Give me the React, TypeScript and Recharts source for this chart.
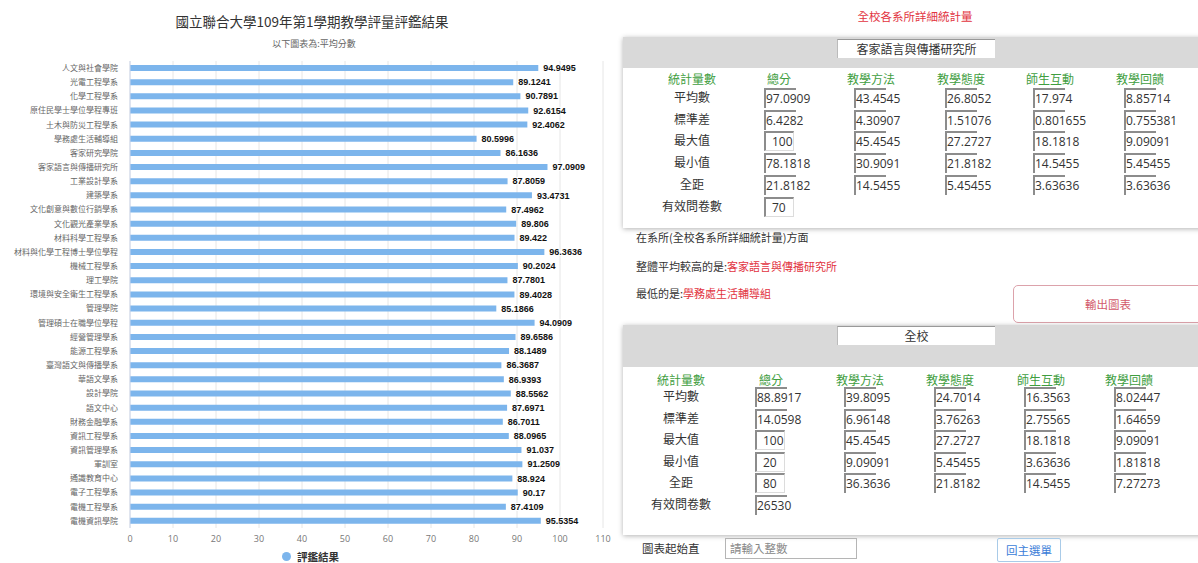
import { BarChart, Bar, XAxis, YAxis, CartesianGrid, LabelList, Legend } from 'recharts'

const departments = [
  '人文與社會學院', '光電工程學系', '化學工程學系', '原住民學士學位學程專班', '土木與防災工程學系',
  '學務處生活輔導組', '客家研究學院', '客家語言與傳播研究所', '工業設計學系', '建築學系',
  '文化創意與數位行銷學系', '文化觀光產業學系', '材料科學工程學系', '材料與化學工程博士學位學程', '機械工程學系',
  '理工學院', '環境與安全衛生工程學系', '管理學院', '管理碩士在職學位學程', '經營管理學系',
  '能源工程學系', '臺灣語文與傳播學系', '華語文學系', '設計學院', '語文中心',
  '財務金融學系', '資訊工程學系', '資訊管理學系', '軍訓室', '通識教育中心',
  '電子工程學系', '電機工程學系', '電機資訊學院',
]

const scores = [
  94.9495, 89.1241, 90.7891, 92.6154, 92.4062,
  80.5996, 86.1636, 97.0909, 87.8059, 93.4731,
  87.4962, 89.806, 89.422, 96.3636, 90.2024,
  87.7801, 89.4028, 85.1866, 94.0909, 89.6586,
  88.1489, 86.3687, 86.9393, 88.5562, 87.6971,
  86.7011, 88.0965, 91.037, 91.2509, 88.924,
  90.17, 87.4109, 95.5354,
]

const xTicks = [0, 10, 20, 30, 40, 50, 60, 70, 80, 90, 100, 110]

const statHeaders = ['統計量數', '總分', '教學方法', '教學態度', '師生互動', '教學回饋']
const statRows = ['平均數', '標準差', '最大值', '最小值', '全距', '有效問卷數']

const deptStats = [
  ['97.0909', '43.4545', '26.8052', '17.974', '8.85714'],
  ['6.4282', '4.30907', '1.51076', '0.801655', '0.755381'],
  ['100', '45.4545', '27.2727', '18.1818', '9.09091'],
  ['78.1818', '30.9091', '21.8182', '14.5455', '5.45455'],
  ['21.8182', '14.5455', '5.45455', '3.63636', '3.63636'],
  ['70'],
]

const schoolStats = [
  ['88.8917', '39.8095', '24.7014', '16.3563', '8.02447'],
  ['14.0598', '6.96148', '3.76263', '2.75565', '1.64659'],
  ['100', '45.4545', '27.2727', '18.1818', '9.09091'],
  ['20', '9.09091', '5.45455', '3.63636', '1.81818'],
  ['80', '36.3636', '21.8182', '14.5455', '7.27273'],
  ['26530'],
]

const BAR_COLOR = '#7cb5ec'
const CJK = "'Noto Sans CJK TC', sans-serif"
const RED = '#e2343f'
const GREEN = '#3f9e3f'

const data = departments.map((name, i) => ({ name, score: scores[i] }))

function LegendContent() {
  return (
    <div style={{ height: 15, position: 'relative' }}>
      <div style={{ position: 'absolute', left: 282, top: 3, display: 'flex', alignItems: 'center', gap: 6 }}>
        <span style={{ width: 9, height: 9, borderRadius: '50%', background: BAR_COLOR, display: 'inline-block' }} />
        <span style={{ fontSize: 10.5, lineHeight: '11px', fontWeight: 'bold', color: '#333', fontFamily: CJK }}>評鑑結果</span>
      </div>
    </div>
  )
}

function ValueBox({ x, y, v }: { x: number; y: number; v: string }) {
  const short = v.length <= 3
  return (
    <div
      style={{
        position: 'absolute',
        left: x,
        top: y - 10,
        width: short ? 30 : 32,
        height: 20,
        boxSizing: 'border-box',
        borderTop: '2px solid #8c8c8c',
        borderLeft: '2px solid #8c8c8c',
        borderRight: short ? '1px solid #dcdcdc' : 'none',
        borderBottom: short ? '1px solid #dcdcdc' : 'none',
        paddingLeft: short ? 6 : 0,
        fontSize: 12,
        lineHeight: '18px',
        color: '#333',
        whiteSpace: 'nowrap',
        fontFamily: "'Open Sans', sans-serif",
      }}
    >
      {v}
    </div>
  )
}

function StatPanel(props: {
  top: number
  bandH: number
  bottom: number
  title: string
  titleTop: number
  headerY: number
  rowY0: number
  rowStep: number
  labelX: number
  colX: number[]
  boxX: number[]
  values: string[][]
}) {
  const { top, bandH, bottom, title, titleTop, headerY, rowY0, rowStep, labelX, colX, boxX, values } = props
  return (
    <>
      <div
        style={{
          position: 'absolute',
          left: 623,
          top,
          width: 600,
          height: bottom - top,
          background: '#fff',
          boxShadow: '0 1px 5px rgba(0,0,0,0.3)',
        }}
      >
        <div style={{ height: bandH, background: '#d9d9d9' }} />
      </div>
      <div
        style={{
          position: 'absolute',
          left: 837,
          top: titleTop,
          width: 158,
          height: 19,
          boxSizing: 'border-box',
          background: '#fff',
          borderTop: '1px solid #999',
          borderLeft: '1px solid #bbb',
          fontSize: 12,
          lineHeight: '18px',
          textAlign: 'center',
          color: '#333',
        }}
      >
        {title}
      </div>
      {statHeaders.map((h, i) => (
        <div
          key={h}
          style={{
            position: 'absolute',
            left: (i === 0 ? labelX : colX[i - 1]) - 40,
            width: 80,
            top: headerY - 9,
            textAlign: 'center',
            fontSize: 12,
            color: GREEN,
          }}
        >
          {h}
        </div>
      ))}
      {statRows.map((r, ri) => (
        <div key={r}>
          <div
            style={{
              position: 'absolute',
              left: labelX - 40,
              width: 80,
              top: rowY0 + ri * rowStep - 10,
              textAlign: 'center',
              fontSize: 12,
              color: '#333',
            }}
          >
            {r}
          </div>
          {values[ri].map((v, ci) => (
            <ValueBox key={ci} x={boxX[ci]} y={rowY0 + ri * rowStep} v={v} />
          ))}
        </div>
      ))}
    </>
  )
}

export default function App() {
  return (
    <div
      style={{
        position: 'fixed',
        left: 0,
        top: 0,
        width: 1198,
        height: 563,
        overflow: 'hidden',
        background: '#fff',
        fontFamily: CJK,
      }}
    >
      <div style={{ position: 'absolute', left: 0, top: 0, width: 620, height: 563 }}>
        <BarChart
          width={620}
          height={563}
          data={data}
          layout="vertical"
          margin={{ top: 61, right: 17, left: 0, bottom: 0 }}
        >
          <CartesianGrid horizontal={false} stroke="#e6e6e6" />
          <XAxis
            type="number"
            domain={[0, 110]}
            ticks={xTicks}
            height={20}
            axisLine={false}
            tickLine={false}
            tick={{ fontSize: 9, fill: '#777', fontFamily: "'Open Sans', sans-serif" }}
          />
          <YAxis
            type="category"
            dataKey="name"
            width={130}
            interval={0}
            tickSize={0}
            tickMargin={12}
            axisLine={{ stroke: '#ccd6eb' }}
            tickLine={false}
            tick={{ fontSize: 8, fill: '#666', fontFamily: CJK }}
          />
          <Legend verticalAlign="bottom" height={15} content={<LegendContent />} />
          <Bar dataKey="score" name="評鑑結果" fill={BAR_COLOR} barSize={6} isAnimationActive={false}>
            <LabelList
              dataKey="score"
              position="right"
              offset={5}
              style={{
                fontSize: 9,
                fontWeight: 'bold',
                fill: '#111',
                fontFamily: "'Liberation Sans', Arial, sans-serif",
                stroke: '#fff',
                strokeWidth: 2,
                paintOrder: 'stroke',
              }}
            />
          </Bar>
        </BarChart>
        <div style={{ position: 'absolute', left: 0, width: 624, top: 11, textAlign: 'center', fontSize: 13.5, color: '#333' }}>
          國立聯合大學109年第1學期教學評量評鑑結果
        </div>
        <div style={{ position: 'absolute', left: 0, width: 628, top: 37, textAlign: 'center', fontSize: 9, color: '#666' }}>
          以下圖表為:平均分數
        </div>
      </div>

      <div style={{ position: 'absolute', left: 815, width: 200, top: 8, textAlign: 'center', fontSize: 11.5, color: RED }}>
        全校各系所詳細統計量
      </div>

      <StatPanel
        top={37}
        bandH={31}
        bottom={228}
        title="客家語言與傳播研究所"
        titleTop={39}
        headerY={79}
        rowY0={98}
        rowStep={21.7}
        labelX={692}
        colX={[779, 871, 961, 1050, 1140]}
        boxX={[764, 854, 945, 1033, 1124]}
        values={deptStats}
      />

      <div style={{ position: 'absolute', left: 636, top: 229, fontSize: 11, color: '#333' }}>
        在系所(全校各系所詳細統計量)方面
      </div>
      <div style={{ position: 'absolute', left: 636, top: 258, fontSize: 11, color: '#333' }}>
        整體平均較高的是:<span style={{ color: RED }}>客家語言與傳播研究所</span>
      </div>
      <div style={{ position: 'absolute', left: 636, top: 285, fontSize: 11, color: '#333' }}>
        最低的是:<span style={{ color: RED }}>學務處生活輔導組</span>
      </div>
      <div
        style={{
          position: 'absolute',
          left: 1013,
          top: 285,
          width: 190,
          height: 38,
          boxSizing: 'border-box',
          border: '1px solid #dca2ab',
          borderRadius: 5,
          textAlign: 'center',
          lineHeight: '36px',
          fontSize: 11.5,
          color: '#d25a6c',
          background: '#fff',
        }}
      >
        輸出圖表
      </div>

      <StatPanel
        top={325}
        bandH={42}
        bottom={535}
        title="全校"
        titleTop={326}
        headerY={380}
        rowY0={397}
        rowStep={21.6}
        labelX={681}
        colX={[771, 860, 950, 1041, 1129]}
        boxX={[755, 844, 934, 1024, 1114]}
        values={schoolStats}
      />

      <div style={{ position: 'absolute', left: 642, top: 540, fontSize: 11.5, color: '#333' }}>圖表起始直</div>
      <div
        style={{
          position: 'absolute',
          left: 725,
          top: 538,
          width: 132,
          height: 21,
          boxSizing: 'border-box',
          border: '1px solid #b5b5b5',
          paddingLeft: 4,
          fontSize: 11.5,
          lineHeight: '19px',
          color: '#888',
        }}
      >
        請輸入整數
      </div>
      <div
        style={{
          position: 'absolute',
          left: 997,
          top: 538,
          width: 64,
          height: 24,
          boxSizing: 'border-box',
          border: '1px solid #a9cbe8',
          borderRadius: 2,
          textAlign: 'center',
          lineHeight: '22px',
          fontSize: 11.5,
          color: '#3b7dd8',
        }}
      >
        回主選單
      </div>
    </div>
  )
}
